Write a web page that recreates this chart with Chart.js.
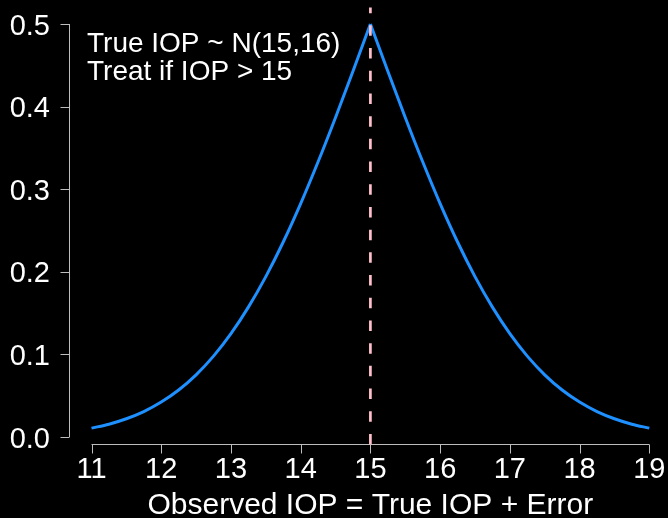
<!DOCTYPE html>
<html lang="en">
<head>
    <meta charset="UTF-8">
    <title>Observed IOP misclassification</title>
    <script src="https://cdn.jsdelivr.net/npm/chart.js"></script>
    <style>
        html, body { margin: 0; padding: 0; background: #000; }
        .wrap { width: 668px; height: 518px; position: relative; }
    </style>
</head>
<body>
    <div class="wrap"><canvas id="iopChart"></canvas></div>

    <script>
        // observed IOP (x) and probability curve (y)
        const observedIOP = [11, 11.25, 11.5, 11.75, 12, 12.25, 12.5, 12.75, 13, 13.25, 13.5, 13.75,
                             14, 14.25, 14.5, 14.75, 15, 15.25, 15.5, 15.75, 16, 16.25, 16.5, 16.75,
                             17, 17.25, 17.5, 17.75, 18, 18.25, 18.5, 18.75, 19];
        const probValues = [0.0107, 0.0155, 0.0221, 0.0308, 0.0423, 0.0569, 0.0753, 0.0979,
                            0.1251, 0.1572, 0.1942, 0.2361, 0.2826, 0.3332, 0.3869, 0.4428,
                            0.5,
                            0.4428, 0.3869, 0.3332, 0.2826, 0.2361, 0.1942, 0.1572, 0.1251,
                            0.0979, 0.0753, 0.0569, 0.0423, 0.0308, 0.0221, 0.0155, 0.0107];

        // treatment threshold, dashed vertical line spanning the plot region
        const cutoffX = [15, 15];
        const cutoffY = [-0.009, 0.52];

        const xTicks = [11, 12, 13, 14, 15, 16, 17, 18, 19];
        const yTicks = [0.0, 0.1, 0.2, 0.3, 0.4, 0.5];
        const noteLines = ['True IOP ~ N(15,16)', 'Treat if IOP > 15'];
        const xTitle = 'Observed IOP = True IOP + Error';

        const FONT = 'Liberation Sans, Arial, Helvetica, sans-serif';

        // R style axes, drawn apart from the data region
        const baseAxes = {
            id: 'baseAxes',
            beforeDatasetsDraw(chart) {
                const ctx = chart.ctx;
                const xs = chart.scales.x, ys = chart.scales.y;
                const axisX = 69;   // y axis line position
                const axisY = 444;  // x axis line position
                const tick = 9;

                ctx.save();
                ctx.strokeStyle = '#bdbdbd';
                ctx.lineWidth = 1;
                ctx.fillStyle = '#fff';

                // y axis
                ctx.beginPath();
                ctx.moveTo(axisX + 0.5, ys.getPixelForValue(yTicks[0]));
                ctx.lineTo(axisX + 0.5, ys.getPixelForValue(yTicks[yTicks.length - 1]));
                yTicks.forEach(v => {
                    const py = Math.round(ys.getPixelForValue(v)) + 0.5;
                    ctx.moveTo(axisX + 0.5, py);
                    ctx.lineTo(axisX + 0.5 - tick, py);
                });
                ctx.stroke();

                ctx.font = '29px ' + FONT;
                ctx.textAlign = 'right';
                ctx.textBaseline = 'alphabetic';
                yTicks.forEach(v => {
                    ctx.fillText(v.toFixed(1), 50, ys.getPixelForValue(v) + 10.5);
                });

                // x axis
                ctx.beginPath();
                ctx.moveTo(xs.getPixelForValue(xTicks[0]), axisY + 0.5);
                ctx.lineTo(xs.getPixelForValue(xTicks[xTicks.length - 1]), axisY + 0.5);
                xTicks.forEach(v => {
                    const px = Math.round(xs.getPixelForValue(v)) + 0.5;
                    ctx.moveTo(px, axisY + 0.5);
                    ctx.lineTo(px, axisY + 0.5 + tick);
                });
                ctx.stroke();

                ctx.textAlign = 'center';
                xTicks.forEach(v => {
                    ctx.fillText(String(v), xs.getPixelForValue(v), 478);
                });

                // axis title
                ctx.font = '30px ' + FONT;
                ctx.fillText(xTitle, (69 + 671.6) / 2, 514);

                // note in the top left corner
                ctx.font = '28px ' + FONT;
                ctx.textAlign = 'left';
                noteLines.forEach((t, i) => {
                    ctx.fillText(t, 87, 52 + i * 28);
                });
                ctx.restore();
            }
        };

        // split at the peak so the smoothing keeps the sharp tip
        const peak = probValues.indexOf(Math.max(...probValues));
        const toPoints = (from, to) => observedIOP.slice(from, to).map((x, i) => ({ x: x, y: probValues[from + i] }));

        const curveStyle = {
            borderColor: '#1e90ff',
            borderWidth: 3,
            pointRadius: 0,
            cubicInterpolationMode: 'monotone',
            clip: false
        };

        new Chart(document.getElementById('iopChart'), {
            type: 'line',
            data: {
                datasets: [
                    {
                        label: 'Threshold',
                        data: cutoffX.map((x, i) => ({ x: x, y: cutoffY[i] })),
                        borderColor: '#ffc0cb',
                        borderWidth: 2.7,
                        borderDash: [10.5, 12.2],
                        pointRadius: 0,
                        clip: false
                    },
                    Object.assign({ label: 'Probability (left)', data: toPoints(0, peak + 1) }, curveStyle),
                    Object.assign({ label: 'Probability (right)', data: toPoints(peak, observedIOP.length) }, curveStyle)
                ]
            },
            options: {
                responsive: true,
                maintainAspectRatio: false,
                animation: false,
                layout: { padding: { left: 91.5, right: 18.7, top: 24, bottom: 81 } },
                plugins: {
                    legend: { display: false },
                    tooltip: { enabled: false }
                },
                scales: {
                    x: { type: 'linear', min: 11, max: 19, display: false },
                    y: { min: 0, max: 0.5, display: false }
                }
            },
            plugins: [baseAxes]
        });
    </script>
</body>
</html>
